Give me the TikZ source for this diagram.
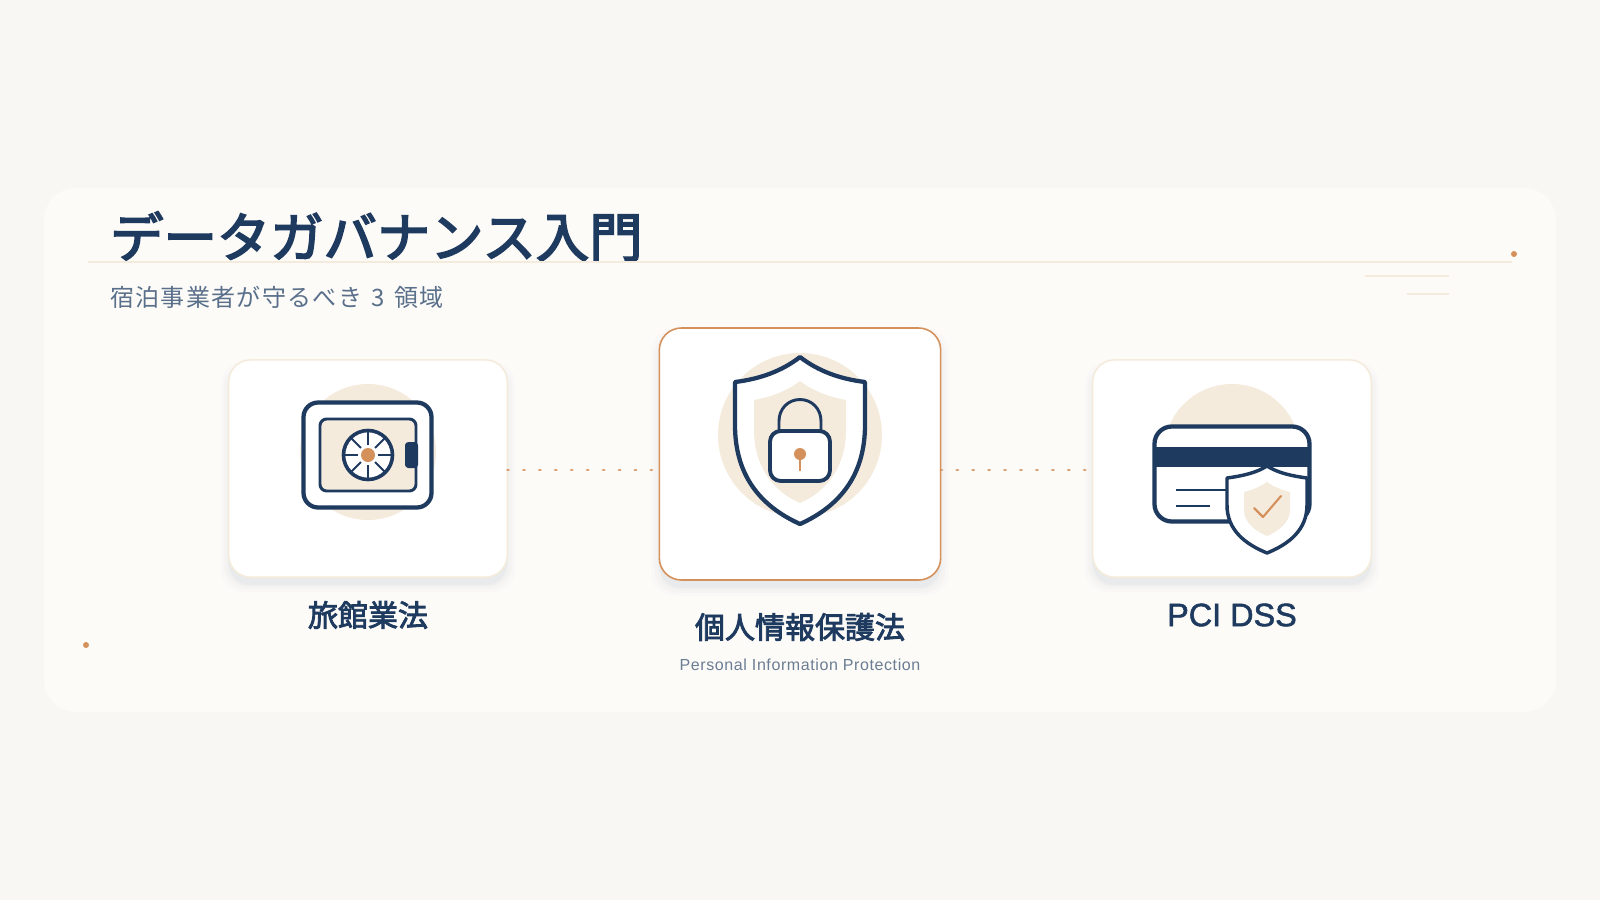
\documentclass[tikz,border=0pt]{standalone}
\usepackage{fontspec}
\usetikzlibrary{shadows}
\newfontfamily\jpfont[FakeBold=3.2]{Noto Sans CJK JP}
\newfontfamily\jpcap[FakeBold=2.8]{Noto Sans CJK JP}
\newfontfamily\jpsub[LetterSpace=5.5]{Noto Sans CJK JP}
\newfontfamily\paylatin[FakeBold=1.6]{Liberation Sans}
\newfontfamily\latinsub[LetterSpace=3.7]{Liberation Sans}
\definecolor{pagebg}{HTML}{F8F7F3}
\definecolor{panelbg}{HTML}{FCFBF8}
\definecolor{navy}{HTML}{1E3A5F}
\definecolor{amber}{HTML}{D4915C}
\definecolor{cream}{HTML}{F5EBDD}
\definecolor{slate}{HTML}{5A6F8A}
\definecolor{greyslate}{HTML}{6B7C93}
\tikzstyle{softshade}=[
    general shadow={shadow yshift=-6pt,shadow scale=1.0,fill=navy,opacity=0.03},
    general shadow={shadow yshift=-6pt,shadow scale=1.015,fill=navy,opacity=0.02},
    general shadow={shadow yshift=-6pt,shadow scale=1.035,fill=navy,opacity=0.014},
    general shadow={shadow yshift=-6pt,shadow scale=1.06,fill=navy,opacity=0.01}]
\tikzstyle{card}=[rectangle,rounded corners=16.5pt,minimum width=209pt,minimum height=163pt,inner sep=0pt,outer sep=0pt,fill=white,draw=cream,line width=1.2pt,softshade]
\tikzstyle{bigcard}=[card,draw=amber,minimum width=211pt,minimum height=189pt]
\tikzstyle{cedge}=[draw=amber,draw opacity=0.85,line width=2pt,line cap=round,dash pattern=on 1pt off 10.95pt]
\tikzstyle{rule}=[draw=cream,line width=1pt]
\tikzstyle{spot}=[circle,fill=amber,minimum size=4.5pt,inner sep=0pt]
\tikzstyle{heavy}=[draw=navy,line width=3.2pt,line join=round,fill=white]
\tikzstyle{mid}=[draw=navy,line width=2.2pt,line join=round]
\tikzstyle{caption}=[font=\jpcap\fontsize{22.5pt}{26pt}\selectfont,text=navy,inner sep=0pt]

\begin{document}
\begin{tikzpicture}[x=0.75pt,y=-0.75pt]
        \path[use as bounding box,fill=pagebg] (0,0) rectangle (1600,900);
        \fill[panelbg,rounded corners=24pt] (44,188) rectangle (1556,712);
        %
        \draw (110,236.5) node[anchor=west,inner sep=0pt,text=navy,font=\jpfont\fontsize{40pt}{46pt}\selectfont](title){データガバナンス入門};
        \draw (110,297) node[anchor=west,inner sep=0pt,text=slate,font=\jpsub\fontsize{18pt}{22pt}\selectfont](subtitle){宿泊事業者が守るべき\hspace{2pt} 3 \hspace{2pt}領域};
        \draw (88,262) coordinate(rulestart);
        \draw (1514,254) node[spot](dotright){};
        \draw (86,645) node[spot](dotleft){};
        \draw (1512,262) coordinate(ruleend);
        \draw[rule] (rulestart) -- (ruleend);
        \draw (1365,276) coordinate(shorta) (1449,276) coordinate(shortb);
        \draw (1407,294) coordinate(shortc) (1449,294) coordinate(shortd);
        \draw[rule] (shorta) -- (shortb);
        \draw[rule] (shortc) -- (shortd);
        %
        \draw (368,468.5) node[card](safecard){};
        \draw (800,454) node[bigcard](lockcard){};
        \draw (1232,468.5) node[card](paycard){};
        \draw (0,470) coordinate(dotrow);
        %
        \path
            (safecard.east |- dotrow)     edge[cedge]     (lockcard.west |- dotrow)
            (lockcard.east |- dotrow)     edge[cedge]     (paycard.west |- dotrow)
        ;
        %
        % safe
        \fill[cream] (368,452) circle[radius=68];
        \draw[heavy,rounded corners=11pt] (303.5,402.5) rectangle (431.5,507.5);
        \draw[mid,fill=cream,rounded corners=5pt] (320,419) rectangle (416,491);
        \fill[navy,rounded corners=2.5pt] (405,442) rectangle (418,468);
        \draw[heavy,line width=2.7pt] (368,455) circle[radius=24.5];
        \foreach \a in {0,45,...,315}
            \draw[navy,line width=1.5pt] (368,455) ++(\a:10) -- ++(\a:14);
        \fill[amber] (368,455) circle[radius=7];
        %
        % shield with lock
        \fill[cream] (800,435) circle[radius=82];
        \draw[heavy] (800,357) .. controls (782,371) and (760,379) .. (735,382) -- (735,425)
            .. controls (735,475) and (760,506) .. (800,524)
            .. controls (840,506) and (865,475) .. (865,425) -- (865,382)
            .. controls (840,379) and (818,371) .. (800,357) -- cycle;
        \fill[cream] (800,381) .. controls (787,391) and (771,397) .. (754,400) -- (754,430)
            .. controls (754,465) and (772,491) .. (800,503)
            .. controls (828,491) and (846,465) .. (846,430) -- (846,400)
            .. controls (829,397) and (813,391) .. (800,381) -- cycle;
        \draw[mid] (779,431) -- (779,421) .. controls (779,409) and (788,399.5) .. (800,399.5)
            .. controls (812,399.5) and (821,409) .. (821,421) -- (821,431);
        \draw[heavy,line width=2.9pt,rounded corners=8pt] (770,431) rectangle (830,481);
        \draw[amber,line width=2pt] (800,454) -- (800,471);
        \fill[amber] (800,454) circle[radius=6];
        %
        % card with shield
        \begin{scope}
            \clip (1100,380) rectangle (1364,425);
            \fill[cream] (1232,452) circle[radius=68];
        \end{scope}
        \draw[heavy,rounded corners=13pt] (1154.5,426.5) rectangle (1309.5,521.5);
        \fill[navy] (1155,447) rectangle (1309,467);
        \draw[mid,line width=1.6pt] (1176,490) -- (1228,490);
        \draw[mid,line width=1.6pt] (1176,506) -- (1210,506);
        \draw[heavy,line width=2.6pt] (1267,466) .. controls (1256,473) and (1242,476) .. (1227,478) -- (1227,505)
            .. controls (1227,530) and (1245,544) .. (1267,553)
            .. controls (1289,544) and (1307,530) .. (1307,505) -- (1307,478)
            .. controls (1292,476) and (1278,473) .. (1267,466) -- cycle;
        \fill[cream] (1267,482) .. controls (1260,487) and (1252,490) .. (1244,492) -- (1244,510)
            .. controls (1244,522) and (1255,531) .. (1267,536)
            .. controls (1279,531) and (1290,522) .. (1290,510) -- (1290,492)
            .. controls (1282,490) and (1274,487) .. (1267,482) -- cycle;
        \draw[amber,line width=1.6pt,line cap=round,line join=round] (1254,508) -- (1263,517) -- (1281,496);
        %
        \draw (368,615) node[caption](safelabel){旅館業法};
        \draw (800,627) node[caption](locklabel){個人情報保護法};
        \draw (800,664.5) node[inner sep=0pt,text=greyslate,font=\latinsub\fontsize{12pt}{14pt}\selectfont](locksub){Personal Information Protection};
        \draw (1232,615) node[caption,font=\paylatin\fontsize{24.3pt}{28pt}\selectfont](paylabel){PCI DSS};
\end{tikzpicture}
\end{document}
